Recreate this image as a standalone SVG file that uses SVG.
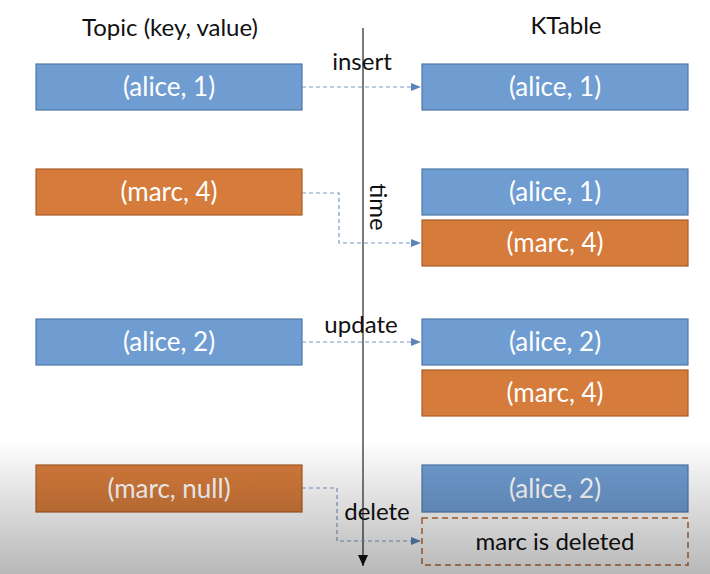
<svg xmlns="http://www.w3.org/2000/svg" width="710" height="574" viewBox="0 0 710 574">
<style>
text{font-family:Lato,"Open Sans","Liberation Sans",sans-serif;}
.b{fill:#6f9dd2;stroke:#4f77a8;stroke-width:1.2;}
.o{fill:#d57b3b;stroke:#a85d27;stroke-width:1.2;}
.d{fill:none;stroke:#b86a33;stroke-width:1.5;stroke-dasharray:6,4;}
.t{fill:#fff;font-size:26px;text-anchor:middle;}
.k{fill:#111;font-size:24px;text-anchor:middle;}
.c{fill:none;stroke:#7a9cc6;stroke-width:1.2;stroke-dasharray:4,3;}
</style>
<defs>
<marker id="ah" markerWidth="10" markerHeight="8" refX="9" refY="4" orient="auto" markerUnits="userSpaceOnUse">
<path d="M0,0 L10,4 L0,8 z" fill="#5b84b8"/>
</marker>
<marker id="tm" markerWidth="12" markerHeight="10" refX="11" refY="5" orient="auto" markerUnits="userSpaceOnUse">
<path d="M0,0 L11,5 L0,10 z" fill="#111"/>
</marker>
<linearGradient id="sh" x1="0" y1="0" x2="0" y2="1">
<stop offset="0" stop-color="#000" stop-opacity="0"/>
<stop offset="1" stop-color="#000" stop-opacity="0.28"/>
</linearGradient>
</defs>
<rect width="710" height="574" fill="#fff"/>
<g id="headers">
<text class="k" x="170" y="36">Topic (key, value)</text>
<text class="k" x="566" y="34">KTable</text>
</g>
<g id="timeline">
<line x1="363" y1="28" x2="363" y2="566" stroke="#333" stroke-width="1.3" marker-end="url(#tm)"/>
<text class="k" x="0" y="0" transform="translate(370,207) rotate(90)">time</text>
</g>
<g id="connectors">
<path class="c" d="M302,87 H420" marker-end="url(#ah)"/>
<path class="c" d="M302,193 H339 V243 H420" marker-end="url(#ah)"/>
<path class="c" d="M302,342 H420" marker-end="url(#ah)"/>
<path class="c" d="M302,488 H337 V541 H420" marker-end="url(#ah)"/>
</g>
<g id="labels">
<text class="k" x="362" y="70">insert</text>
<text class="k" x="361" y="333">update</text>
<text class="k" x="377" y="520">delete</text>
</g>
<g id="t1"><rect class="b" x="36" y="64" width="266" height="46"/><text class="t" x="169" y="96">(alice, 1)</text></g>
<g id="t2"><rect class="o" x="36" y="169" width="266" height="46"/><text class="t" x="169" y="201">(marc, 4)</text></g>
<g id="t3"><rect class="b" x="36" y="319" width="266" height="46"/><text class="t" x="169" y="351">(alice, 2)</text></g>
<g id="t4"><rect class="o" x="36" y="465" width="266" height="47"/><text class="t" x="169" y="498">(marc, null)</text></g>
<g id="k1"><rect class="b" x="422" y="64" width="266" height="46"/><text class="t" x="555" y="96">(alice, 1)</text></g>
<g id="k2a"><rect class="b" x="422" y="169" width="266" height="46"/><text class="t" x="555" y="201">(alice, 1)</text></g>
<g id="k2b"><rect class="o" x="422" y="220" width="266" height="46"/><text class="t" x="555" y="252">(marc, 4)</text></g>
<g id="k3a"><rect class="b" x="422" y="319" width="266" height="46"/><text class="t" x="555" y="351">(alice, 2)</text></g>
<g id="k3b"><rect class="o" x="422" y="370" width="266" height="46"/><text class="t" x="555" y="402">(marc, 4)</text></g>
<g id="k4a"><rect class="b" x="422" y="465" width="266" height="47"/><text class="t" x="555" y="498">(alice, 2)</text></g>
<g id="k4b"><rect class="d" x="422" y="518" width="266" height="47"/><text class="k" x="555" y="550">marc is deleted</text></g>
<rect x="0" y="440" width="710" height="134" fill="url(#sh)"/>
</svg>
